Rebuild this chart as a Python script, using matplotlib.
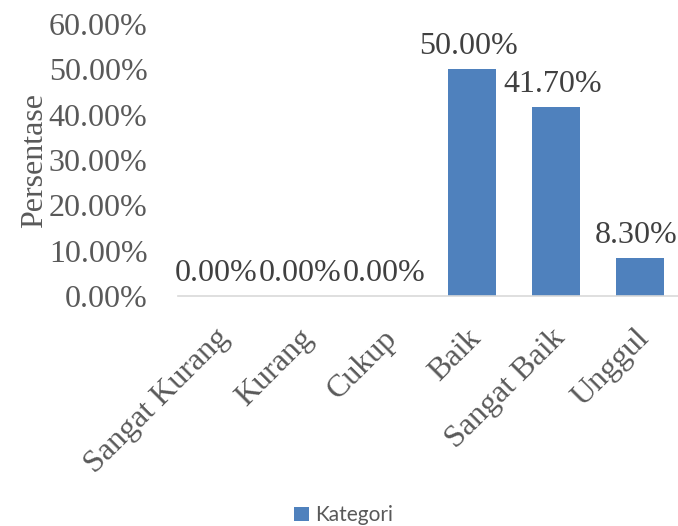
import numpy as np
import matplotlib
matplotlib.use("Agg")
import matplotlib.pyplot as plt
from matplotlib.ticker import FuncFormatter

kategori = ["Sangat Kurang", "Kurang", "Cukup", "Baik", "Sangat Baik", "Unggul"]
persentase = [0.0, 0.0, 0.0, 50.0, 41.7, 8.3]
yticks = [0, 10, 20, 30, 40, 50, 60]

serif = "Liberation Serif"
grey = "#595959"
blue = "#4F81BD"

fig = plt.figure(figsize=(6.78, 5.26), dpi=100)
ax = fig.add_axes([178 / 678, 230 / 526, 504 / 678, 272 / 526])

x = np.arange(len(kategori))
bars = ax.bar(x, persentase, width=0.57, color=blue, label="Kategori", zorder=2)

# value labels
for xi, v in zip(x, persentase):
    ax.annotate("%.2f%%" % v, (xi, v), xytext=(-2.5, 6), textcoords="offset points",
                ha="center", va="bottom", fontsize=23, family=serif, color="#404040")

# category labels (rotated, like excel)
ax.set_xticks(x)
ax.set_xticklabels([])
for xi, k in zip(x, kategori):
    ax.annotate(k, (xi, 0), xycoords=("data", "axes fraction"), xytext=(-4, -20),
                textcoords="offset points", rotation=45, rotation_mode="anchor",
                ha="right", va="top", fontsize=23, family=serif, color=grey,
                annotation_clip=False)

ax.set_xlim(-0.5, len(kategori) - 0.5)
ax.set_ylim(0, 60)
ax.set_yticks(yticks)
ax.yaxis.set_major_formatter(FuncFormatter(lambda v, p: "%.2f%%" % v))
for lab in ax.get_yticklabels():
    lab.set_fontsize(23)
    lab.set_family(serif)
    lab.set_color(grey)

ax.tick_params(axis="both", length=0)
ax.tick_params(axis="y", pad=22)
for s in ["top", "right", "left"]:
    ax.spines[s].set_visible(False)
ax.spines["bottom"].set_color("#D9D9D9")
ax.spines["bottom"].set_linewidth(1.2)

ax.set_ylabel("Persentase", fontsize=23, family=serif, color=grey, labelpad=0)

fig.legend(handles=[bars], labels=["Kategori"], loc="center", bbox_to_anchor=(0.507, 0.02),
           frameon=False, prop={"family": "Lato", "size": 15}, labelcolor=grey,
           handlelength=0.7, handleheight=0.7, handletextpad=0.3)

fig.savefig("out.png", dpi=100)
